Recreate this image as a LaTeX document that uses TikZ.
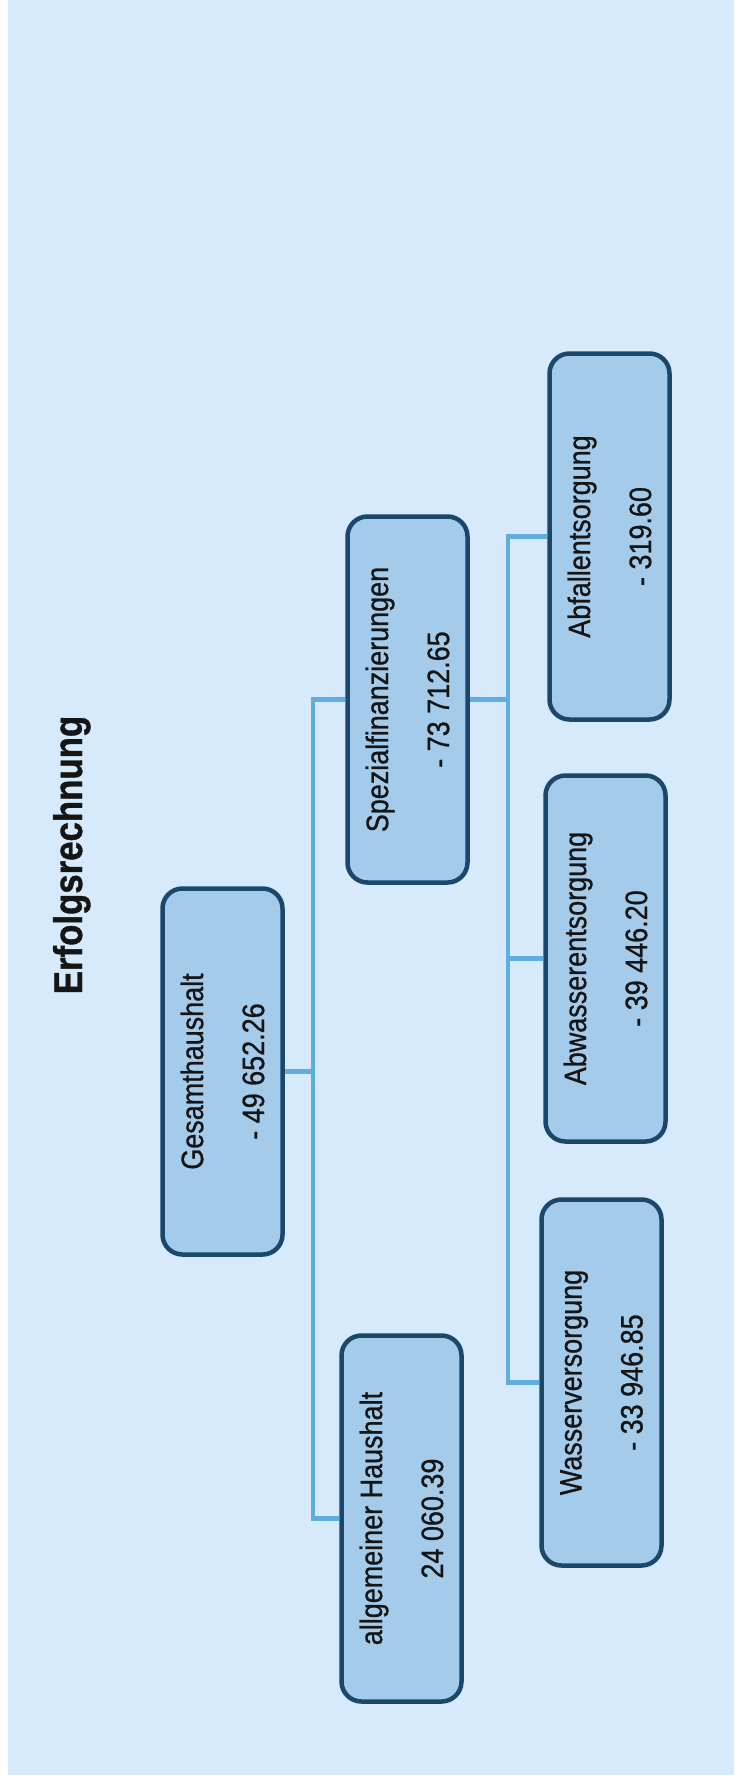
\documentclass[tikz,border=0pt]{standalone}
\usepackage{fontspec}
\setmainfont{Liberation Sans}
\newfontfamily\narrowfont[FakeStretch=0.87, FakeBold=0.8]{Liberation Sans}
\newfontfamily\titlefont[FakeStretch=0.87, FakeBold=1]{Liberation Sans}
\definecolor{bgblue}{HTML}{D6EAFB}
\definecolor{boxfill}{HTML}{A4CCEA}
\definecolor{boxline}{HTML}{1B476B}
\definecolor{linkblue}{HTML}{5EAEE3}
\definecolor{textgray}{HTML}{151515}
\begin{document}
\begin{tikzpicture}[x=1pt, y=-1pt,
        box/.style={draw=boxline, line width=4.5pt, fill=boxfill, rounded corners=20pt,
                minimum width=366pt, minimum height=120pt, rotate=90, align=center,
                text=textgray, font=\narrowfont\fontsize{31}{61}\selectfont},
        link/.style={draw=linkblue, line width=4.5pt}]
        \useasboundingbox (0,0) rectangle (734,1780);
        \fill[bgblue] (8,0) rectangle (734,1775);
        \node[rotate=90, anchor=base, text=textgray, font=\titlefont\bfseries\fontsize{40}{40}\selectfont] (title) at (82,855) {Erfolgsrechnung};
        % first level
        \node[box] (ges) at (222.5,1071.5) {Gesamthaushalt\\- 49 652.26};
        \node[box] (spez) at (407.5,699.5) {Spezialfinanzierungen\\- 73 712.65};
        \node[box] (allg) at (401.5,1518.5) {allgemeiner Haushalt\\24 060.39};
        % second level
        \node[box] (abf) at (609.5,536.5) {Abfallentsorgung\\- 319.60};
        \node[box] (abw) at (605.5,958.5) {Abwasserentsorgung\\- 39 446.20};
        \node[box] (wass) at (601.5,1382.5) {Wasserversorgung\\- 33 946.85};
        \coordinate (bus1) at (313,1071.5);
        \coordinate (bus2) at (508,699.5);
        \draw[link] (ges.south) -- (bus1);
        \foreach \n in {spez,allg} {
                \draw[link] (\n.north) -| (bus1);
            }
        \draw[link] (spez.south) -- (bus2);
        \foreach \n in {abf,abw,wass} {
                \draw[link] (\n.north) -| (bus2);
            }
    \end{tikzpicture}
\end{document}
